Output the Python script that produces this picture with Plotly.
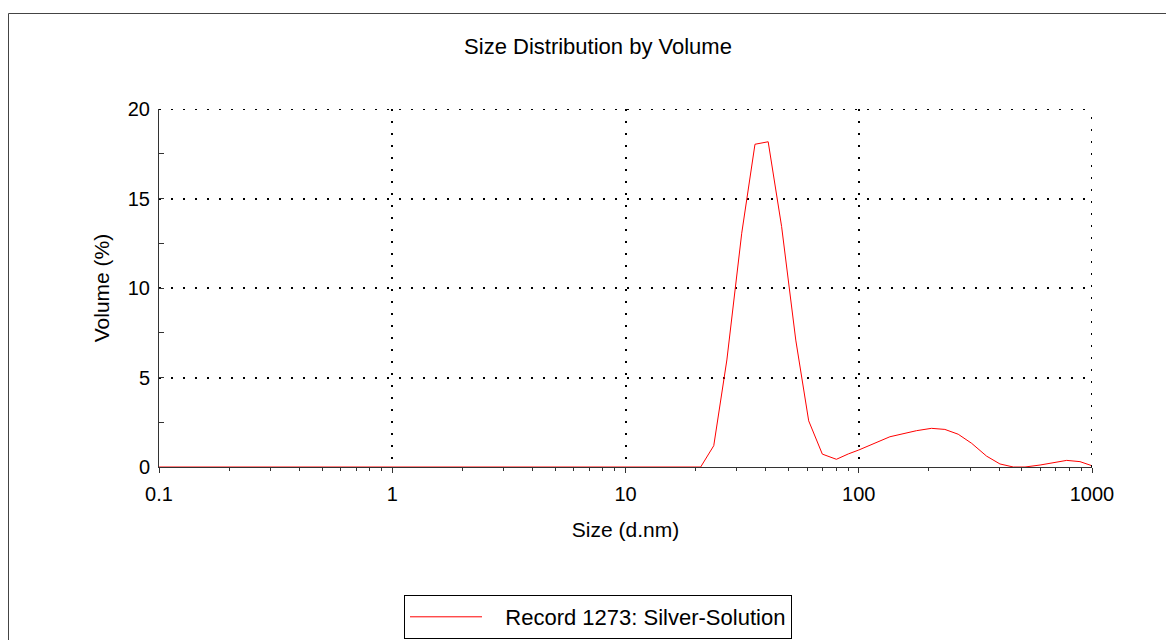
import plotly.graph_objects as go

# size classes (d.nm) and volume (%)
size_nm = [0.1, 21.0, 23.9, 27.2, 31.5, 35.9, 40.9, 46.7, 53.7, 61.0, 69.8, 80.2,
           90.2, 100, 136, 177, 205, 234, 267, 305, 353, 403, 460, 516, 599,
           706, 779, 888, 1000]
volume_pct = [0, 0, 1.19, 5.98, 13.06, 18.03, 18.17, 13.43, 7.09, 2.58, 0.72, 0.43,
              0.73, 0.95, 1.69, 2.03, 2.16, 2.10, 1.83, 1.32, 0.61, 0.17, 0, 0, 0.11,
              0.26, 0.37, 0.30, 0.07]

x_ticks = [0.1, 1, 10, 100, 1000]
x_ticktext = ["0.1", "1", "10", "100", "1000"]
x_minor = [m * d for d in [0.1, 1, 10, 100] for m in range(2, 10)]
y_ticks = [0, 5, 10, 15, 20]
y_minor = [2.5, 7.5, 12.5, 17.5]

FONT = "Arial, Liberation Sans, sans-serif"
AXIS_COLOR = "#333333"
DOTS = "2px,10px"

# the page body adds 8px, so the figure is laid out 8px up/left of screen positions
OFF = 8
L, T, W, H = 159 - OFF, 109 - OFF, 933, 358

fig = go.Figure()

fig.add_trace(go.Scatter(
    x=size_nm,
    y=volume_pct,
    mode="lines",
    name="\u00a0\u00a0\u00a0Record 1273: Silver-Solution",
    line=dict(color="#ff0000", width=1),
))

grid = dict(showgrid=True, gridcolor="black", gridwidth=2, griddash=DOTS)

fig.update_xaxes(
    type="log",
    range=[-1, 3],
    tickvals=x_ticks,
    ticktext=x_ticktext,
    ticks="outside",
    ticklen=5,
    tickcolor=AXIS_COLOR,
    showline=True,
    linecolor=AXIS_COLOR,
    linewidth=1,
    zeroline=False,
    minor=dict(tickvals=x_minor, ticks="outside", ticklen=3, tickcolor=AXIS_COLOR, showgrid=False),
    tickfont=dict(size=20, color="black"),
    ticklabelstandoff=4,
    title=dict(text="Size (d.nm)", font=dict(size=21, color="black"), standoff=18),
    **grid,
)

fig.update_yaxes(
    range=[0, 20],
    tickvals=y_ticks,
    ticks="inside",
    ticklen=5,
    tickcolor=AXIS_COLOR,
    showline=True,
    linecolor=AXIS_COLOR,
    linewidth=1,
    zeroline=False,
    minor=dict(tickvals=y_minor, ticks="inside", ticklen=5, tickcolor=AXIS_COLOR, showgrid=False),
    tickfont=dict(size=20, color="black"),
    ticklabelstandoff=4,
    title=dict(text="Volume (%)", font=dict(size=21, color="black"), standoff=12),
    **grid,
)

# grid lines at the top and right edges (plotly drops the ones on the range ends)
fig.add_shape(type="line", xref="x", yref="y", x0=x_ticks[0], x1=x_ticks[-1],
              y0=y_ticks[-1], y1=y_ticks[-1], line=dict(color="black", width=2, dash=DOTS))
fig.add_shape(type="line", xref="x", yref="y", x0=x_ticks[-1], x1=x_ticks[-1],
              y0=y_ticks[0], y1=y_ticks[-1], line=dict(color="black", width=2, dash=DOTS))

# outer frame (extends past the right and bottom edges)
fig.add_shape(type="rect", xref="paper", yref="paper",
              x0=(8.5 - 159) / W, x1=(1200 - 159) / W,
              y0=(467 - 680) / H, y1=(467 - 13.5) / H,
              line=dict(color="#444444", width=1), layer="below")

fig.update_layout(
    width=1174,
    height=640,
    autosize=False,
    margin=dict(l=L, r=1174 - L - W, t=T, b=640 - T - H, autoexpand=False),
    paper_bgcolor="white",
    plot_bgcolor="white",
    font=dict(family=FONT, color="black"),
    title=dict(text="Size Distribution by Volume", x=(598 - OFF) / 1174, xanchor="center",
               xref="container", y=1 - (46 - OFF) / 640, yanchor="middle", yref="container",
               font=dict(size=22, color="black")),
    showlegend=True,
    legend=dict(x=(404 - 159) / W, xanchor="left", y=(467 - 595) / H, yanchor="top",
                bordercolor="black", borderwidth=1, itemwidth=72,
                font=dict(size=22, color="black"), bgcolor="white"),
)

fig.write_html("out.html")
